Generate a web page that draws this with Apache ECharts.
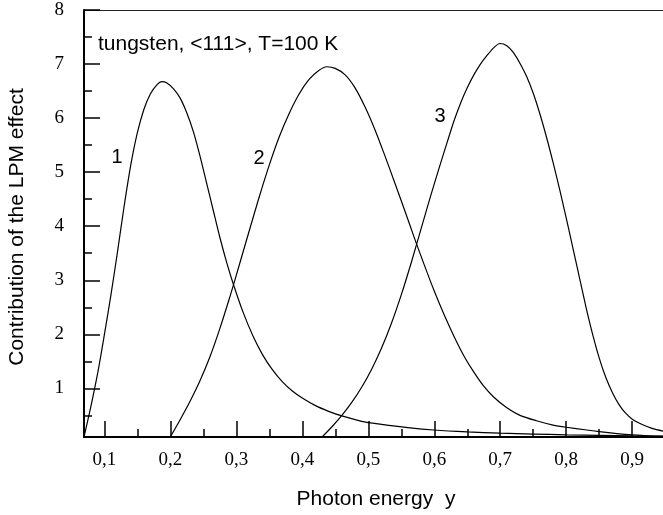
<!DOCTYPE html>
<html>
<head>
<meta charset="utf-8">
<script src="https://cdn.jsdelivr.net/npm/echarts@6/dist/echarts.min.js"></script>
<style>
  html, body { margin: 0; padding: 0; background: #fff; }
  #chart { width: 663px; height: 515px; }
</style>
</head>
<body>
<div id="chart"></div>
<script>
// Axis extents (photon energy y, contribution of the LPM effect)
const xRange = [0.0693, 0.9466];
const yRange = [0.1, 8];

// Tick positions
const xMajorTicks = [0.1, 0.2, 0.3, 0.4, 0.5, 0.6, 0.7, 0.8, 0.9];
const xMinorTicks = [0.15, 0.25, 0.35, 0.45, 0.55, 0.65, 0.75, 0.85];
const yMajorTicks = [1, 2, 3, 4, 5, 6, 7, 8];
const yMinorTicks = [0.5, 1.5, 2.5, 3.5, 4.5, 5.5, 6.5, 7.5];

// Curve 1
const curve1 = [
  [0.0693, 0.10], [0.08, 0.68], [0.09, 1.28], [0.10, 1.98], [0.11, 2.72],
  [0.12, 3.52], [0.13, 4.36], [0.14, 5.12], [0.15, 5.72], [0.16, 6.16],
  [0.17, 6.45], [0.18, 6.62], [0.187, 6.675], [0.195, 6.65], [0.205, 6.54],
  [0.215, 6.37], [0.225, 6.1], [0.235, 5.75], [0.245, 5.3], [0.255, 4.8],
  [0.265, 4.3], [0.275, 3.8], [0.285, 3.35], [0.295, 2.95], [0.31, 2.42],
  [0.325, 1.98], [0.34, 1.62], [0.355, 1.34], [0.37, 1.12], [0.385, 0.95],
  [0.40, 0.82], [0.42, 0.68], [0.44, 0.575], [0.46, 0.49], [0.49, 0.39],
  [0.52, 0.335], [0.56, 0.275], [0.60, 0.23], [0.65, 0.195], [0.70, 0.17],
  [0.75, 0.155], [0.80, 0.14], [0.85, 0.13], [0.90, 0.12], [0.9466, 0.115]
];

// Curve 2
const curve2 = [
  [0.20, 0.10], [0.215, 0.42], [0.23, 0.76], [0.245, 1.14], [0.26, 1.58],
  [0.275, 2.1], [0.29, 2.68], [0.305, 3.3], [0.32, 3.93], [0.335, 4.55],
  [0.35, 5.13], [0.365, 5.65], [0.38, 6.08], [0.395, 6.44], [0.41, 6.71],
  [0.425, 6.88], [0.437, 6.95], [0.45, 6.92], [0.465, 6.8], [0.48, 6.56],
  [0.495, 6.21], [0.51, 5.79], [0.525, 5.31], [0.54, 4.81], [0.555, 4.3],
  [0.57, 3.78], [0.585, 3.28], [0.60, 2.8], [0.615, 2.36], [0.63, 1.96],
  [0.645, 1.6], [0.66, 1.3], [0.675, 1.04], [0.69, 0.84], [0.71, 0.64],
  [0.73, 0.5], [0.755, 0.4], [0.78, 0.32], [0.80, 0.28], [0.85, 0.2],
  [0.90, 0.14], [0.9466, 0.11]
];

// Curve 3
const curve3 = [
  [0.43, 0.10], [0.445, 0.29], [0.46, 0.5], [0.475, 0.74], [0.49, 1.02],
  [0.505, 1.35], [0.52, 1.74], [0.535, 2.2], [0.55, 2.73], [0.565, 3.32],
  [0.58, 3.95], [0.595, 4.58], [0.61, 5.18], [0.62, 5.57], [0.63, 5.95],
  [0.64, 6.28], [0.65, 6.56], [0.66, 6.8], [0.67, 7.0], [0.68, 7.16],
  [0.69, 7.3], [0.6996, 7.38], [0.71, 7.34], [0.72, 7.21], [0.73, 7.01],
  [0.74, 6.77], [0.75, 6.46], [0.76, 6.08], [0.77, 5.65], [0.78, 5.18],
  [0.79, 4.68], [0.80, 4.15], [0.81, 3.6], [0.82, 3.05], [0.83, 2.5],
  [0.84, 2.0], [0.85, 1.56], [0.86, 1.2], [0.87, 0.92], [0.88, 0.7],
  [0.89, 0.54], [0.90, 0.43], [0.915, 0.33], [0.93, 0.26], [0.9466, 0.21]
];

const curveLabels = ['1', '2', '3'];

const chart = echarts.init(document.getElementById('chart'), null, { renderer: 'canvas' });

const sans = '"Liberation Sans", Arial, sans-serif';
const serif = '"Liberation Serif", "Times New Roman", serif';
const fmt = v => v.toFixed(1).replace('.', ',');

function curveSeries(data) {
  return {
    type: 'line',
    data: data,
    smooth: 0.3,
    showSymbol: false,
    silent: true,
    lineStyle: { color: '#000', width: 1.2 }
  };
}

chart.setOption({
  animation: false,
  backgroundColor: '#fff',
  grid: { left: 84, right: 0, top: 10, bottom: 78, containLabel: false },
  xAxis: [
    {
      type: 'value', position: 'bottom', min: xRange[0], max: xRange[1],
      axisLine: { show: true, lineStyle: { color: '#000', width: 2 } },
      axisTick: { show: true, inside: true, length: 16, customValues: xMajorTicks,
                  lineStyle: { color: '#000', width: 1.5 } },
      axisLabel: { show: true, customValues: xMajorTicks, formatter: fmt, margin: 14,
                   fontFamily: serif, fontSize: 19, color: '#000' },
      splitLine: { show: false }
    },
    {
      type: 'value', position: 'bottom', min: xRange[0], max: xRange[1],
      axisLine: { show: false },
      axisTick: { show: true, inside: true, length: 8, customValues: xMinorTicks,
                  lineStyle: { color: '#000', width: 1.5 } },
      axisLabel: { show: false },
      splitLine: { show: false }
    },
    {
      type: 'value', position: 'top', min: xRange[0], max: xRange[1],
      axisLine: { show: true, lineStyle: { color: '#222', width: 1.2 } },
      axisTick: { show: false },
      axisLabel: { show: false },
      splitLine: { show: false }
    }
  ],
  yAxis: [
    {
      type: 'value', position: 'left', min: yRange[0], max: yRange[1],
      axisLine: { show: true, lineStyle: { color: '#000', width: 2 } },
      axisTick: { show: true, inside: true, length: 16, customValues: yMajorTicks,
                  lineStyle: { color: '#000', width: 1.5 } },
      axisLabel: { show: true, customValues: yMajorTicks, margin: 20,
                   fontFamily: serif, fontSize: 19, color: '#000' },
      splitLine: { show: false }
    },
    {
      type: 'value', position: 'left', min: yRange[0], max: yRange[1],
      axisLine: { show: false },
      axisTick: { show: true, inside: true, length: 8, customValues: yMinorTicks,
                  lineStyle: { color: '#000', width: 1.5 } },
      axisLabel: { show: false },
      splitLine: { show: false }
    }
  ],
  series: [curveSeries(curve1), curveSeries(curve2), curveSeries(curve3)],
  graphic: [
    { type: 'text', x: 98, y: 44,
      style: { text: 'tungsten, <111>, T=100 K', font: '21px ' + sans, fill: '#000',
               textAlign: 'left', textVerticalAlign: 'middle' } },
    { type: 'text', x: 376, y: 499,
      style: { text: 'Photon energy  y', font: '21px ' + sans, fill: '#000',
               textAlign: 'center', textVerticalAlign: 'middle' } },
    { type: 'text', x: 17, y: 227, rotation: Math.PI / 2,
      style: { text: 'Contribution of the LPM effect', font: '21px ' + sans, fill: '#000',
               textAlign: 'center', textVerticalAlign: 'middle' } },
    { type: 'text', x: 117, y: 157,
      style: { text: curveLabels[0], font: '20px ' + sans, fill: '#000',
               textAlign: 'center', textVerticalAlign: 'middle' } },
    { type: 'text', x: 259, y: 158,
      style: { text: curveLabels[1], font: '20px ' + sans, fill: '#000',
               textAlign: 'center', textVerticalAlign: 'middle' } },
    { type: 'text', x: 440, y: 116,
      style: { text: curveLabels[2], font: '20px ' + sans, fill: '#000',
               textAlign: 'center', textVerticalAlign: 'middle' } }
  ]
});
</script>
</body>
</html>
